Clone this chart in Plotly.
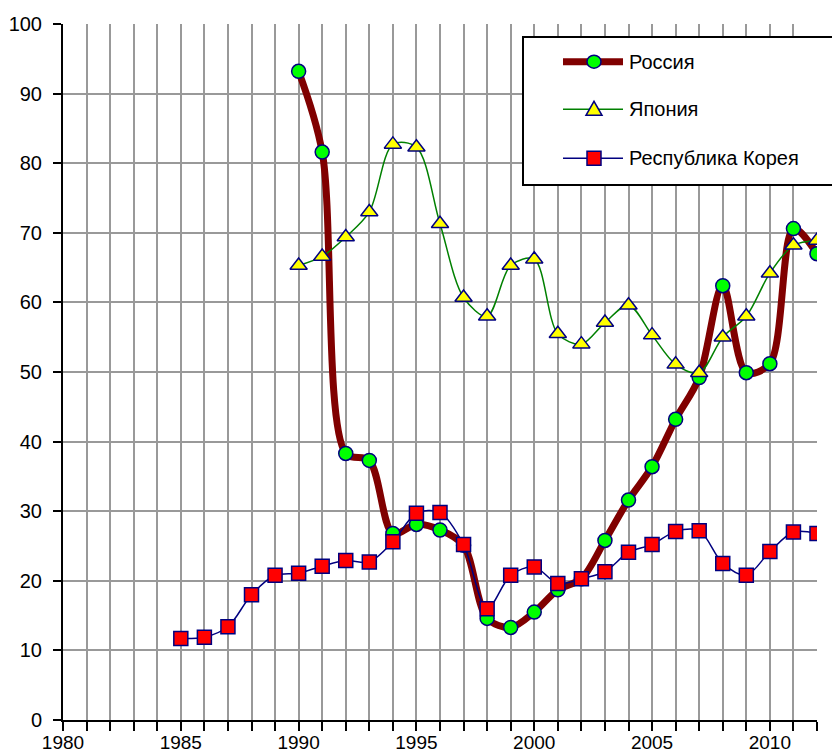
import plotly.graph_objects as go

# ---- data -------------------------------------------------------------
years_ru = list(range(1990, 2013))
russia = [93.2, 81.6, 38.3, 37.3, 26.8, 28.1, 27.3, 25.1, 14.6, 13.3, 15.5, 18.7,
          20.3, 25.8, 31.6, 36.4, 43.2, 49.2, 62.4, 49.9, 51.2, 70.6, 67.0]

years_jp = list(range(1990, 2013))
japan = [65.3, 66.6, 69.4, 73.0, 82.7, 82.3, 71.3, 60.7, 58.0, 65.3, 66.2, 55.5,
         54.0, 57.1, 59.6, 55.3, 51.1, 49.9, 55.0, 58.0, 64.2, 68.2, 68.9]

years_kr = list(range(1985, 2013))
korea = [11.7, 11.9, 13.4, 18.0, 20.8, 21.1, 22.1, 22.9, 22.7, 25.6, 29.7, 29.8,
         25.2, 16.0, 20.8, 22.0, 19.6, 20.3, 21.3, 24.1, 25.2, 27.1, 27.2, 22.5,
         20.8, 24.2, 27.0, 26.8]

series_names = ["Россия", "Япония", "Республика Корея"]

# ---- page geometry ----------------------------------------------------
W, H = 832, 755
L, R, T, B = 63, 15, 24, 35
FONT = "Liberation Sans, Arial, sans-serif"
NAVY = "#000080"
GRID = "#999999"


def px_x(px):
    return (px - L) / (W - L - R)


def px_y(py):
    return (H - B - py) / (H - T - B)


fig = go.Figure()

fig.add_trace(go.Scatter(
    x=years_ru, y=russia, name=series_names[0], mode="lines+markers",
    line=dict(color="#800000", width=7, shape="spline", smoothing=0.9),
    marker=dict(symbol="circle", size=14, color="#00ff00",
                line=dict(color=NAVY, width=1.5)),
))
fig.add_trace(go.Scatter(
    x=years_jp, y=japan, name=series_names[1], mode="lines+markers",
    line=dict(color="#008000", width=1.5, shape="spline", smoothing=0.9),
    marker=dict(symbol="triangle-up", size=15, color="#ffff00",
                line=dict(color=NAVY, width=1.5)),
))
fig.add_trace(go.Scatter(
    x=years_kr, y=korea, name=series_names[2], mode="lines+markers",
    line=dict(color=NAVY, width=1.5, shape="spline", smoothing=0.9),
    marker=dict(symbol="square", size=14, color="#ff0000",
                line=dict(color=NAVY, width=1.5)),
))

# ---- legend box (drawn by hand to get long sample lines) ---------------
shapes = []
annotations = []
shapes.append(dict(type="rect", xref="paper", yref="paper",
                   x0=px_x(523), x1=px_x(845), y0=px_y(185), y1=px_y(37),
                   line=dict(color="black", width=2), fillcolor="white",
                   layer="above"))

rows = [61.7, 109.3, 158.3]
line_styles = [("#800000", 7), ("#008000", 1.5), (NAVY, 1.5)]
for (col, wid), ry, name in zip(line_styles, rows, series_names):
    shapes.append(dict(type="line", xref="paper", yref="paper",
                       x0=px_x(563), x1=px_x(623), y0=px_y(ry), y1=px_y(ry),
                       line=dict(color=col, width=wid), layer="above"))
    annotations.append(dict(text=name, xref="paper", yref="paper",
                            x=px_x(627), y=px_y(ry), xanchor="left",
                            yanchor="middle", showarrow=False,
                            font=dict(family=FONT, size=20, color="black")))

mx = px_x(594)
# circle
shapes.append(dict(type="circle", xref="paper", yref="paper",
                   xsizemode="pixel", ysizemode="pixel",
                   xanchor=mx, yanchor=px_y(rows[0]),
                   x0=-7, x1=7, y0=-6.5, y1=6.5,
                   fillcolor="#00ff00", line=dict(color=NAVY, width=1.5),
                   layer="above"))
# triangle
shapes.append(dict(type="path", xref="paper", yref="paper",
                   xsizemode="pixel", ysizemode="pixel",
                   xanchor=mx, yanchor=px_y(rows[1]),
                   path="M-8,-6 L8,-6 L0,8 Z",
                   fillcolor="#ffff00", line=dict(color=NAVY, width=1.5),
                   layer="above"))
# square
shapes.append(dict(type="rect", xref="paper", yref="paper",
                   xsizemode="pixel", ysizemode="pixel",
                   xanchor=mx, yanchor=px_y(rows[2]),
                   x0=-7, x1=7, y0=-7, y1=7,
                   fillcolor="#ff0000", line=dict(color=NAVY, width=1.5),
                   layer="above"))

fig.update_layout(
    width=W, height=H,
    margin=dict(l=L, r=R, t=T, b=B, pad=0, autoexpand=False),
    paper_bgcolor="white", plot_bgcolor="white",
    showlegend=False,
    font=dict(family=FONT, size=20, color="black"),
    shapes=shapes, annotations=annotations,
    xaxis=dict(
        range=[1980, 2012], tick0=1980, dtick=5, automargin=False,
        tickfont=dict(size=19),
        showgrid=True, gridcolor=GRID, gridwidth=1.5,
        ticks="outside", ticklen=9, tickwidth=1.5, tickcolor="black",
        showline=True, linecolor="black", linewidth=2,
        zeroline=False, ticklabelstandoff=-5,
        minor=dict(dtick=1, tick0=1980, showgrid=True, gridcolor=GRID,
                   gridwidth=1.5, ticks="outside", ticklen=9,
                   tickwidth=1.5, tickcolor="black"),
    ),
    yaxis=dict(
        range=[0, 100], dtick=10, automargin=False,
        showgrid=True, gridcolor=GRID, gridwidth=1.5,
        ticks="outside", ticklen=8, tickwidth=1.5, tickcolor="black",
        showline=True, linecolor="black", linewidth=2,
        zeroline=False, ticklabelstandoff=7,
    ),
)

fig.write_html("out.html")
